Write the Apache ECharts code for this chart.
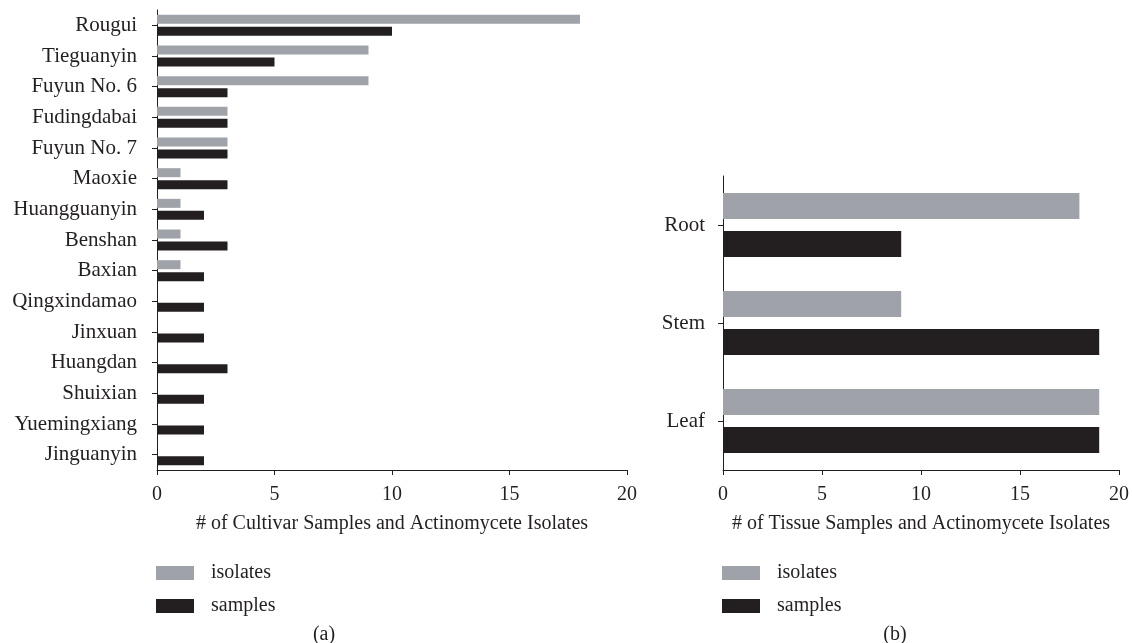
<!DOCTYPE html>
<html>
<head>
<meta charset="utf-8">
<script src="https://cdn.jsdelivr.net/npm/echarts@6/dist/echarts.min.js"></script>
<style>
html,body{margin:0;padding:0;background:#fff;}
#c{width:1132px;height:643px;}
</style>
</head>
<body>
<div id="c"></div>
<script>
const cultivars = ['Rougui','Tieguanyin','Fuyun No. 6','Fudingdabai','Fuyun No. 7','Maoxie','Huangguanyin','Benshan','Baxian','Qingxindamao','Jinxuan','Huangdan','Shuixian','Yuemingxiang','Jinguanyin'];
const cultivarIsolates = [18,9,9,3,3,1,1,1,1,0,0,0,0,0,0];
const cultivarSamples  = [10,5,3,3,3,3,2,3,2,2,2,3,2,2,2];
const tissues = ['Root','Stem','Leaf'];
const tissueIsolates = [18,9,19];
const tissueSamples  = [9,19,19];
const xTicks = [0,5,10,15,20];

const FONT = 'Liberation Serif';
const GRAY = '#a0a2a9';
const BLACK = '#231f20';
const AX = '#231f20';

function xAxisCfg(grid, name){
  return {
    type:'value', gridIndex:grid, min:xTicks[0], max:xTicks[xTicks.length-1], interval:5,
    name:name, nameLocation:'middle', nameGap:44,
    nameTextStyle:{fontFamily:FONT,fontSize:20,color:BLACK},
    axisLine:{show:true,lineStyle:{color:AX,width:1}},
    axisTick:{show:true,length:5,lineStyle:{color:AX}},
    axisLabel:{fontFamily:FONT,fontSize:20,color:BLACK,margin:15},
    splitLine:{show:false}
  };
}
function yAxisCfg(grid, cats, margin){
  return {
    type:'category', gridIndex:grid, data:cats, inverse:true,
    axisLine:{show:true,lineStyle:{color:AX,width:1}},
    axisTick:{show:true,length:5,alignWithLabel:true,lineStyle:{color:AX}},
    axisLabel:{fontFamily:FONT,fontSize:21,color:BLACK,margin:margin},
    splitLine:{show:false}
  };
}
const legendText = {fontFamily:FONT,fontSize:20,color:BLACK,padding:[0,0,0,12]};
const chart = echarts.init(document.getElementById('c'), null, {renderer:'canvas'});
chart.setOption({
  animation:false,
  backgroundColor:'#fff',
  title:[
    {text:'(a)', left:319, top:620, textAlign:'center', textStyle:{fontFamily:FONT,fontSize:20,fontWeight:'normal',color:BLACK}},
    {text:'(b)', left:890, top:620, textAlign:'center', textStyle:{fontFamily:FONT,fontSize:20,fontWeight:'normal',color:BLACK}}
  ],
  legend:[
    {left:156, top:563, padding:0, orient:'vertical', itemWidth:38, itemHeight:14, itemGap:13, icon:'rect',
     textStyle:legendText, data:['isolates','samples']},
    {left:722, top:563, padding:0, orient:'vertical', itemWidth:38, itemHeight:14, itemGap:13, icon:'rect',
     textStyle:legendText, data:['isolates','samples']}
  ],
  grid:[
    {left:157, width:470, top:10, height:460},
    {left:723, width:402, top:176, height:294}
  ],
  xAxis:[xAxisCfg(0,'# of Cultivar Samples and Actinomycete Isolates'), xAxisCfg(1,'# of Tissue Samples and Actinomycete Isolates')],
  yAxis:[yAxisCfg(0,cultivars,20), yAxisCfg(1,tissues,18)],
  series:[
    {name:'isolates', type:'bar', xAxisIndex:0, yAxisIndex:0, data:cultivarIsolates, barWidth:9, barGap:'33%', itemStyle:{color:GRAY}},
    {name:'samples', type:'bar', xAxisIndex:0, yAxisIndex:0, data:cultivarSamples, barWidth:9, barGap:'33%', itemStyle:{color:BLACK}},
    {name:'isolates', type:'bar', xAxisIndex:1, yAxisIndex:1, data:tissueIsolates, barWidth:26, barGap:'46%', itemStyle:{color:GRAY}},
    {name:'samples', type:'bar', xAxisIndex:1, yAxisIndex:1, data:tissueSamples, barWidth:26, barGap:'46%', itemStyle:{color:BLACK}}
  ]
});
</script>
</body>
</html>
